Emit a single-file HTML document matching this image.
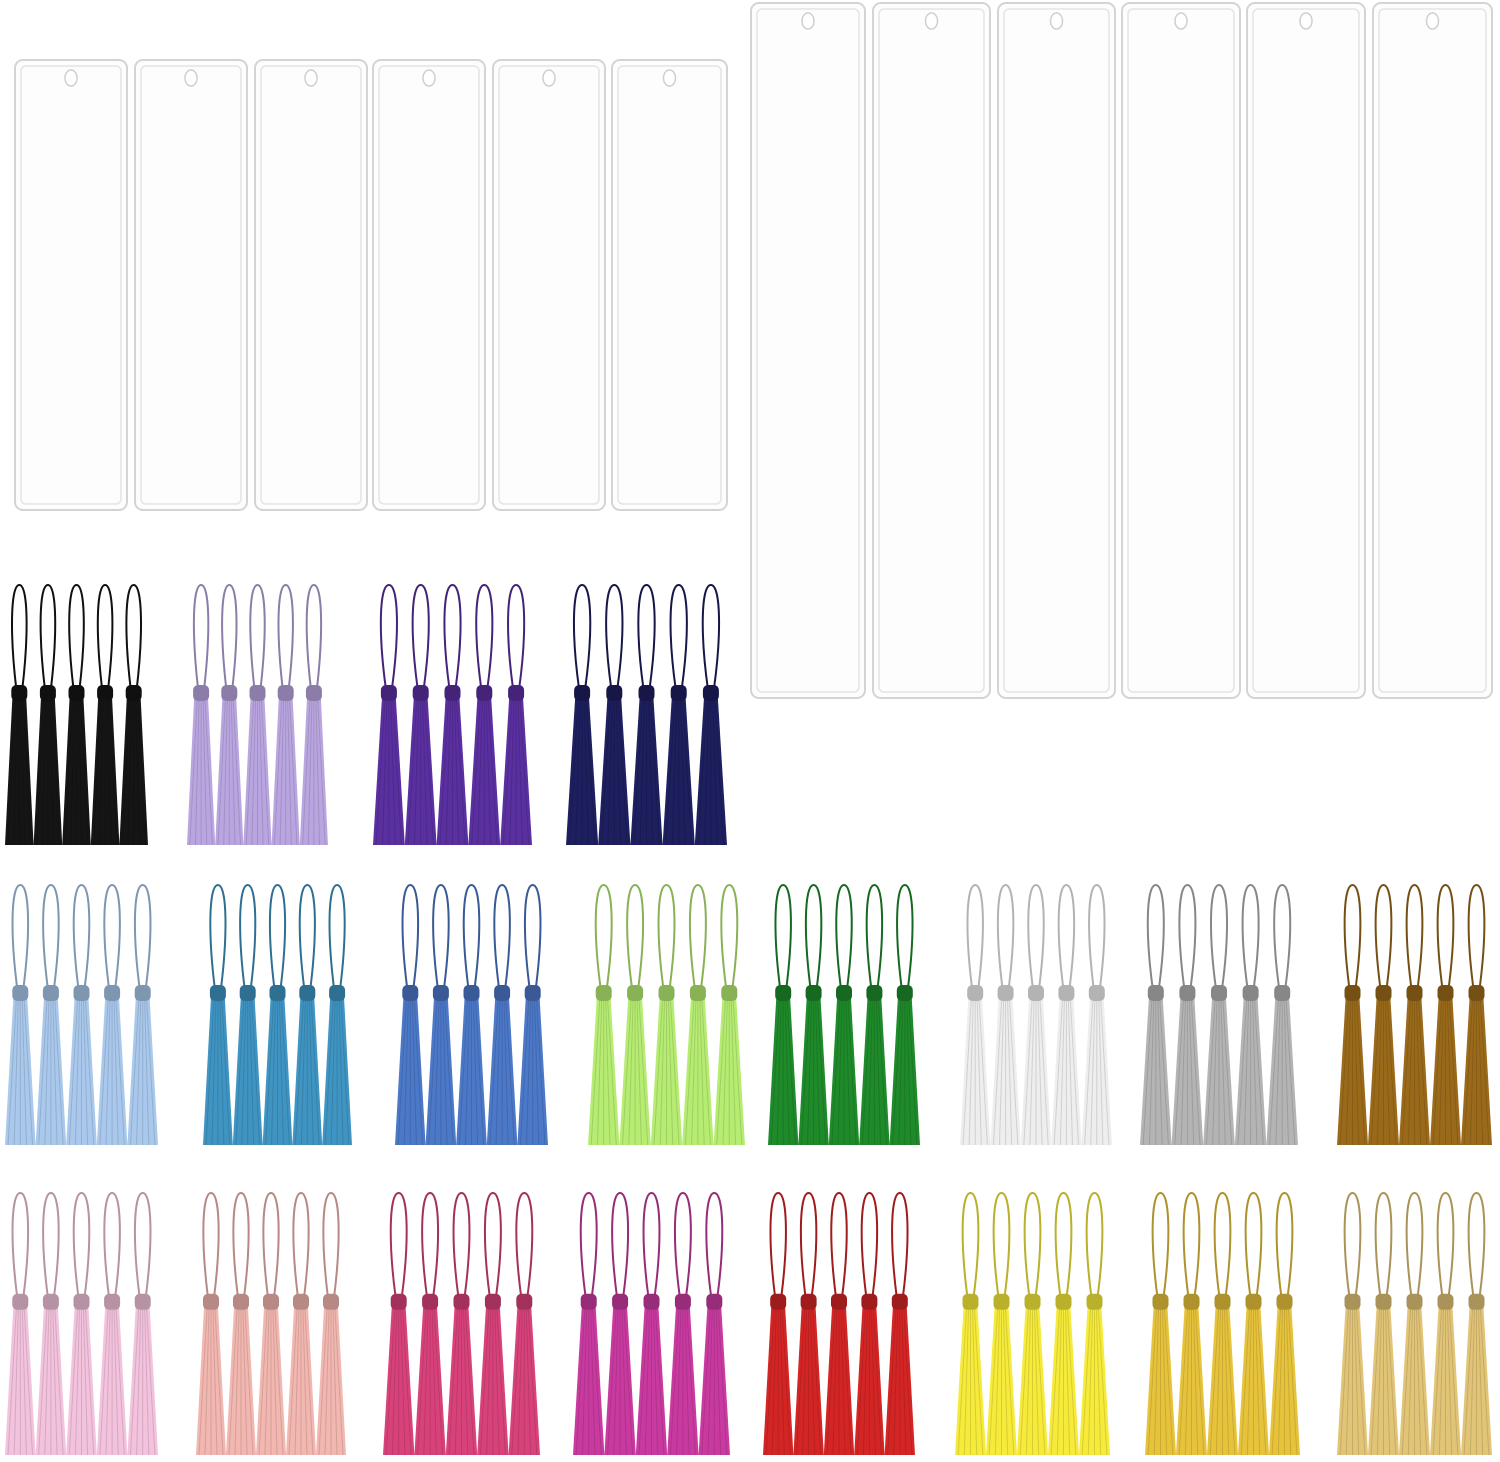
<!DOCTYPE html>
<html><head><meta charset="utf-8"><style>
html,body{margin:0;padding:0;background:#fff;}
svg{display:block;}
</style></head><body>
<svg id="s" width="1500" height="1462" viewBox="0 0 1500 1462" xmlns="http://www.w3.org/2000/svg"></svg>
<script>
const s=document.getElementById('s');let h='';
function bm(x0,x1,y0,y1){
 const w=x1-x0,H=y1-y0;
 h+=`<rect x="${x0}" y="${y0}" width="${w}" height="${H}" rx="8" fill="#fdfdfd" stroke="#d4d4d4" stroke-width="2"/>`;
 h+=`<rect x="${x0+6}" y="${y0+6}" width="${w-12}" height="${H-12}" rx="5" fill="none" stroke="#e4e4e4" stroke-width="1.5"/>`;
 h+=`<ellipse cx="${(x0+x1)/2}" cy="${y0+18}" rx="6" ry="8" fill="#fff" stroke="#cfcfcf" stroke-width="1.5"/>`;
}
[[15,127],[135,247],[255,367],[373,485],[493,605],[612,727]].forEach(a=>bm(a[0],a[1],60,510));
[[751,865],[873,990],[998,1115],[1122,1240],[1247,1365],[1373,1492]].forEach(a=>bm(a[0],a[1],3,698));
function shade(c,f){const n=parseInt(c.slice(1),16);let r=n>>16,g=(n>>8)&255,b=n&255;
 r=Math.round(r*f);g=Math.round(g*f);b=Math.round(b*f);return `rgb(${Math.min(r,255)},${Math.min(g,255)},${Math.min(b,255)})`;}
function grp(x0,x1,y0,y1,c){
 const w=(x1-x0)/5,H=y1-y0,ky=y0+H*0.40,dk=shade(c,0.75);
 for(let i=0;i<5;i++){
  const cx=x0+w*(i+0.5),lw=w*0.32;
  h+=`<path d="M${cx-3} ${ky} C${cx-lw} ${y0+H*0.2} ${cx-lw} ${y0} ${cx} ${y0} C${cx+lw} ${y0} ${cx+lw} ${y0+H*0.2} ${cx+3} ${ky}" fill="none" stroke="${dk}" stroke-width="2"/>`;
  h+=`<path d="M${cx-7} ${ky+10} L${cx+7} ${ky+10} L${cx+w*0.5} ${y1} L${cx-w*0.5} ${y1} Z" fill="${c}"/>`;
  for(let k=-2;k<=2;k++) h+=`<line x1="${cx+k*2}" y1="${ky+12}" x2="${cx+k*w*0.2}" y2="${y1}" stroke="${dk}" stroke-width="1" opacity="0.5"/>`;
  h+=`<rect x="${cx-8}" y="${ky-4}" width="16" height="16" rx="5" fill="${dk}"/>`;
 }
}
[[5,148,'#151515'],[187,328,'#b9a6e0'],[373,532,'#5a2fa0'],[566,727,'#1d1f5e']].forEach(a=>grp(a[0],a[1],585,845,a[2]));
[[5,158,'#a9c8ec'],[203,352,'#3f94c2'],[395,548,'#4c78c8'],[588,745,'#b6ec72'],[768,920,'#1e8a2a'],[960,1112,'#eeeeee'],[1140,1298,'#b4b4b4'],[1337,1492,'#9a6a1a']].forEach(a=>grp(a[0],a[1],885,1145,a[2]));
[[5,158,'#f3c2dc'],[196,346,'#f2b7b0'],[383,540,'#d8427a'],[573,730,'#c93aa0'],[763,915,'#d42525'],[955,1110,'#f6ea3a'],[1145,1300,'#e7c33c'],[1337,1492,'#e2c477']].forEach(a=>grp(a[0],a[1],1193,1455,a[2]));
s.innerHTML=h;
</script>
</body></html>
